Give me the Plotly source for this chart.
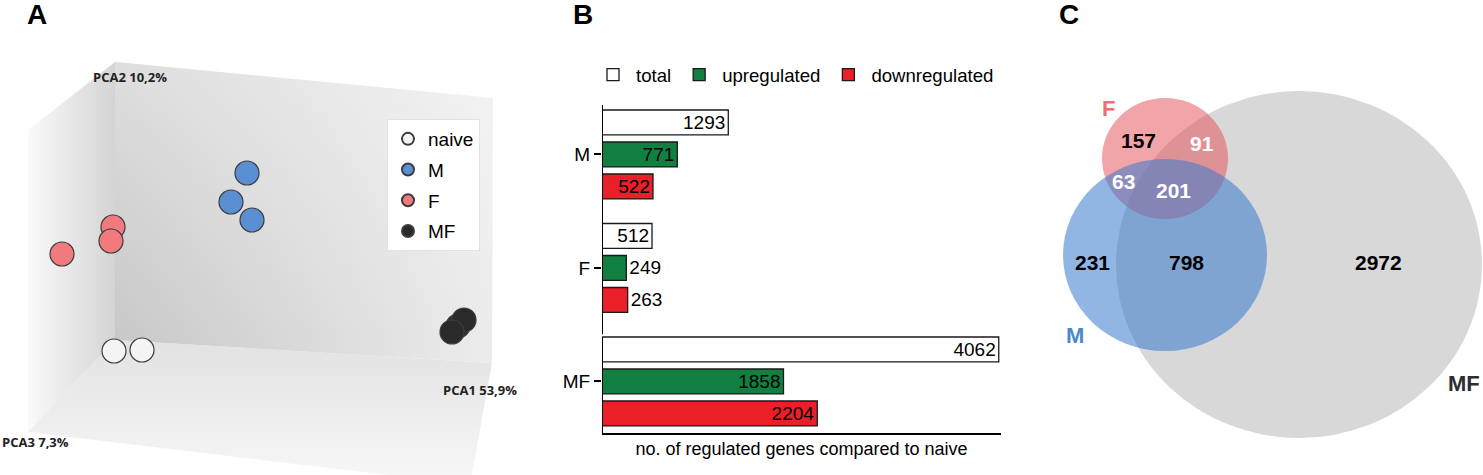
import plotly.graph_objects as go

W, H = 1483, 475

# ---------------- Panel A : PCA (projected score positions) ----------------
pca_groups = ["naive", "M", "F", "MF"]
pca_naive_x = [114, 142]
pca_naive_y = [351, 350]
pca_M_x = [247, 231, 252]
pca_M_y = [173, 202, 220]
pca_F_x = [113, 111, 62]
pca_F_y = [227, 241, 254]
pca_MF_x = [458, 464, 452]
pca_MF_y = [326, 320, 332]
pca_colors = ["#f4f4f4", "#5b8fd3", "#f07a7e", "#2a2a2a"]
pca_axis_labels = ["PCA2 10,2%", "PCA1 53,9%", "PCA3 7,3%"]

# ---------------- Panel B : regulated genes ----------------
conditions = ["M", "F", "MF"]
total = [1293, 512, 4062]
upregulated = [771, 249, 1858]
downregulated = [522, 263, 2204]

# ---------------- Panel C : Venn counts ----------------
venn_F_only = 157
venn_F_MF = 91
venn_F_M = 63
venn_F_M_MF = 201
venn_M_only = 231
venn_M_MF = 798
venn_MF_only = 2972

fig = go.Figure()

# ---- panel A decorative 3D box (walls) ----
back_wall = dict(x=[115, 493, 492, 115], y=[62, 98, 363, 340])
left_wall = dict(x=[28, 115, 115, 28], y=[130, 62, 340, 432])
floor = dict(x=[28, 115, 492, 470], y=[432, 340, 363, 485])

fig.add_trace(go.Scatter(
    x=left_wall["x"], y=left_wall["y"], fill="toself", mode="lines",
    line=dict(width=0), hoverinfo="skip", showlegend=False,
    fillgradient=dict(type="horizontal", start=28, stop=115,
                      colorscale=[[0, "rgb(250,250,250)"], [1, "rgb(212,212,212)"]]),
    xaxis="x", yaxis="y"))
fig.add_trace(go.Scatter(
    x=floor["x"], y=floor["y"], fill="toself", mode="lines",
    line=dict(width=0), hoverinfo="skip", showlegend=False,
    fillgradient=dict(type="vertical", start=340, stop=475,
                      colorscale=[[0, "rgb(226,226,226)"], [1, "rgb(246,246,246)"]]),
    xaxis="x", yaxis="y"))
fig.add_trace(go.Scatter(
    x=back_wall["x"], y=back_wall["y"], fill="toself", mode="lines",
    line=dict(width=0), hoverinfo="skip", showlegend=False,
    fillgradient=dict(type="horizontal", start=115, stop=493,
                      colorscale=[[0, "rgb(200,200,200)"], [1, "rgb(236,236,236)"]]),
    xaxis="x", yaxis="y"))
fig.add_trace(go.Scatter(
    x=back_wall["x"], y=back_wall["y"], fill="toself", mode="lines",
    line=dict(width=0), hoverinfo="skip", showlegend=False,
    fillgradient=dict(type="vertical", start=62, stop=340,
                      colorscale=[[0, "rgba(255,255,255,0.4)"], [1, "rgba(255,255,255,0)"]]),
    xaxis="x", yaxis="y"))

pca_xs = [pca_naive_x, pca_M_x, pca_F_x, pca_MF_x]
pca_ys = [pca_naive_y, pca_M_y, pca_F_y, pca_MF_y]
for g, xs, ys, c in zip(pca_groups, pca_xs, pca_ys, pca_colors):
    fig.add_trace(go.Scatter(
        x=xs, y=ys, mode="markers", name=g, legend="legend", legendgroup=g,
        marker=dict(size=24, color=c, line=dict(color="#3c3c3c", width=1.2)),
        xaxis="x", yaxis="y"))

# ---- panel B bars ----
bar_specs = [
    ("total", total, "#ffffff", ["inside", "inside", "inside"]),
    ("upregulated", upregulated, "#117f40", ["inside", "outside", "inside"]),
    ("downregulated", downregulated, "#ea1f27", ["inside", "outside", "inside"]),
]
for name, vals, col, tpos in bar_specs:
    fig.add_trace(go.Bar(
        y=conditions, x=vals, orientation="h", name=name, legend="legend2",
        marker=dict(color=col, line=dict(color="#1a1a1a", width=1.3)),
        text=[str(v) for v in vals], textposition=tpos, insidetextanchor="end",
        constraintext="none", cliponaxis=False,
        insidetextfont=dict(size=19, color="black", family="Liberation Sans, Arial"),
        outsidetextfont=dict(size=19, color="black", family="Liberation Sans, Arial"),
        xaxis="x2", yaxis="y2"))

shapes = []
# broken y axis of panel B
shapes.append(dict(type="line", xref="x2", yref="y2", x0=0, x1=0, y0=-0.436, y1=1.585,
                   line=dict(color="black", width=2)))
shapes.append(dict(type="line", xref="x2", yref="y2", x0=0, x1=0, y0=1.61, y1=2.454,
                   line=dict(color="black", width=2)))

# ---- panel C Venn circles ----
shapes.append(dict(type="circle", xref="x3", yref="y3", x0=1116, x1=1482, y0=91, y1=438,
                   fillcolor="rgb(216,216,216)", line=dict(width=0)))
shapes.append(dict(type="circle", xref="x3", yref="y3", x0=1102, x1=1228, y0=98, y1=219,
                   fillcolor="rgba(229,75,81,0.5)", line=dict(width=0)))
shapes.append(dict(type="circle", xref="x3", yref="y3", x0=1063, x1=1267, y0=159, y1=351,
                   fillcolor="rgba(57,122,206,0.55)", line=dict(width=0)))

ann = []
def add_text(txt, x, y, xref, yref, size, color="black", bold=False, xanchor="center",
             family="Liberation Sans, Arial"):
    ann.append(dict(text=f"<b>{txt}</b>" if bold else txt, x=x, y=y, xref=xref, yref=yref,
                    showarrow=False, xanchor=xanchor, yanchor="middle",
                    font=dict(size=size, color=color, family=family)))

# panel letters
add_text("A", 37, 14, "x", "y", 28, bold=True)
add_text("B", 583 / W, 1 - 14 / H, "paper", "paper", 28, bold=True)
add_text("C", 1069, 14, "x3", "y3", 28, bold=True)

# PCA axis labels
add_text(pca_axis_labels[0], 91, 77, "x", "y", 13, color="#222", bold=True, xanchor="left",
         family="Open Sans, Arial")
add_text(pca_axis_labels[1], 441, 390, "x", "y", 13, color="#222", bold=True, xanchor="left",
         family="Open Sans, Arial")
add_text(pca_axis_labels[2], 0, 442, "x", "y", 13, color="#222", bold=True, xanchor="left",
         family="Open Sans, Arial")

# Venn numbers
add_text(str(venn_F_only), 1138, 140, "x3", "y3", 21, bold=True)
add_text(str(venn_F_MF), 1202, 143, "x3", "y3", 21, color="white", bold=True)
add_text(str(venn_F_M), 1123, 181, "x3", "y3", 21, color="white", bold=True)
add_text(str(venn_F_M_MF), 1173, 190, "x3", "y3", 21, color="white", bold=True)
add_text(str(venn_M_only), 1092, 262, "x3", "y3", 21, bold=True)
add_text(str(venn_M_MF), 1186, 262, "x3", "y3", 21, bold=True)
add_text(str(venn_MF_only), 1378, 262, "x3", "y3", 21, bold=True)
add_text("F", 1108, 108, "x3", "y3", 22, color="#ec6f72", bold=True)
add_text("M", 1075, 335, "x3", "y3", 22, color="#4b88cc", bold=True)
add_text("MF", 1464, 383, "x3", "y3", 22, color="#2e2e2e", bold=True)

hidden = dict(visible=False, showgrid=False, zeroline=False, fixedrange=True)

fig.update_layout(
    width=W, height=H, margin=dict(l=0, r=0, t=0, b=0),
    paper_bgcolor="white", plot_bgcolor="rgba(0,0,0,0)",
    font=dict(family="Liberation Sans, Arial", color="black"),
    barmode="group", bargap=0.154, bargroupgap=0.22,
    xaxis=dict(domain=[0, 500 / W], range=[0, 500], anchor="y", **hidden),
    yaxis=dict(domain=[0, 1], range=[475, 0], anchor="x", **hidden),
    xaxis2=dict(domain=[602 / W, 1001 / W], range=[0, 4085], anchor="y2",
                showline=True, linecolor="black", linewidth=2, showticklabels=False,
                ticks="", showgrid=False, zeroline=False,
                title=dict(text="no. of regulated genes compared to naive",
                           font=dict(size=18), standoff=8)),
    yaxis2=dict(domain=[1 - 433 / H, 1 - 105 / H], type="category",
                categoryorder="array", categoryarray=conditions,
                range=[2.454, -0.436], anchor="x2", showline=False, showgrid=False,
                zeroline=False, ticks="outside", ticklen=7, tickwidth=2,
                tickcolor="black", tickfont=dict(size=19)),
    xaxis3=dict(domain=[1040 / W, 1], range=[1040, 1483], anchor="y3", **hidden),
    yaxis3=dict(domain=[0, 1], range=[475, 0], anchor="x3", **hidden),
    legend=dict(x=387 / W, y=1 - 119 / H, xanchor="left", yanchor="top",
                bgcolor="white", bordercolor="#e2e2e2", borderwidth=1,
                font=dict(size=19, family="Liberation Sans, Arial"),
                tracegroupgap=3, itemsizing="constant"),
    legend2=dict(orientation="h", x=590 / W, y=1 - 75 / H, xanchor="left",
                 yanchor="middle", bgcolor="rgba(0,0,0,0)", itemwidth=36,
                 font=dict(size=18.6, family="Liberation Sans, Arial")),
    shapes=shapes,
    annotations=ann,
)

fig.write_html("out.html", config={"displayModeBar": False},
               post_script="document.body.style.margin='0px';"
                           "document.body.style.overflow='hidden';")
